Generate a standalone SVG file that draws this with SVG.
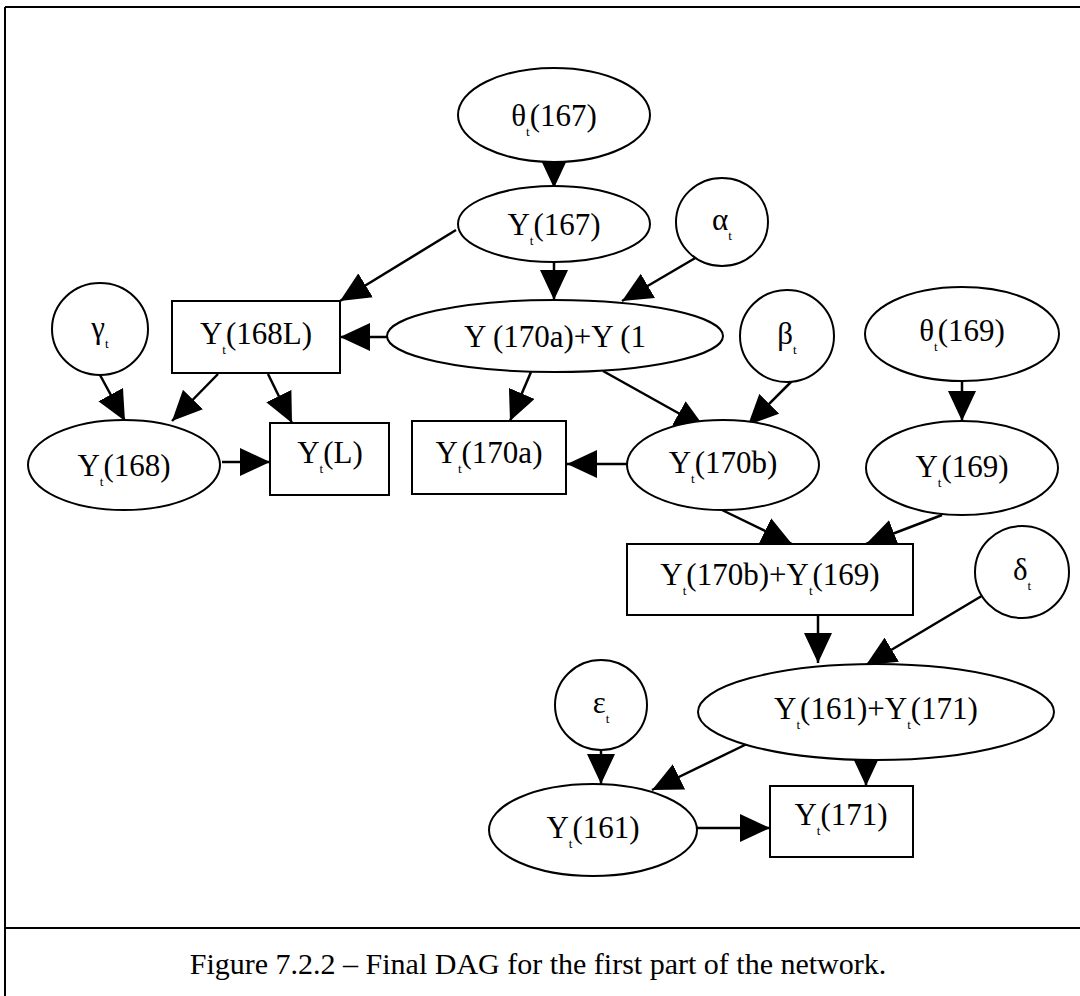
<svg xmlns="http://www.w3.org/2000/svg" width="1080" height="996" viewBox="0 0 1080 996">
<style>
.n{fill:#fff;stroke:#000;stroke-width:2}
.l{font-family:"Liberation Serif","Times New Roman",serif;font-size:31px;fill:#000;text-anchor:middle}
.s{font-size:13px}
.e{stroke:#000;stroke-width:2.5;fill:none;marker-end:url(#ah)}
.b{stroke:#000;stroke-width:2;fill:none}
</style>
<defs>
<marker id="ah" viewBox="0 0 30 28" refX="30" refY="14" markerWidth="30" markerHeight="28" markerUnits="userSpaceOnUse" orient="auto">
<path d="M0,0 L30,14 L0,28 z" fill="#000"/>
</marker>
</defs>
<rect x="0" y="0" width="1080" height="996" fill="#fff"/>
<g id="frame">
<path class="b" d="M5,7 H1080 M5,7 V996 M5,928 H1080"/>
</g>
<g id="edges">
<line class="e" x1="554" y1="162" x2="554" y2="188"/>
<line class="e" x1="456" y1="230" x2="340" y2="301"/>
<line class="e" x1="554" y1="261" x2="554" y2="300"/>
<line class="e" x1="697" y1="257" x2="622" y2="301"/>
<line class="e" x1="387" y1="337" x2="340" y2="337"/>
<line class="e" x1="100" y1="375" x2="125" y2="421"/>
<line class="e" x1="218" y1="374" x2="172" y2="421"/>
<line class="e" x1="268" y1="374" x2="292" y2="423"/>
<line class="e" x1="222" y1="462" x2="270" y2="462"/>
<line class="e" x1="531" y1="372" x2="510" y2="421"/>
<line class="e" x1="603" y1="371" x2="705" y2="428"/>
<line class="e" x1="792" y1="381" x2="748" y2="425"/>
<line class="e" x1="627" y1="464" x2="567" y2="464"/>
<line class="e" x1="962" y1="382" x2="962" y2="421"/>
<line class="e" x1="722" y1="510" x2="792" y2="544"/>
<line class="e" x1="942" y1="515" x2="866" y2="544"/>
<line class="e" x1="818" y1="615" x2="818" y2="663"/>
<line class="e" x1="985" y1="594" x2="866" y2="665"/>
<line class="e" x1="601" y1="750" x2="601" y2="784"/>
<line class="e" x1="753" y1="741" x2="652" y2="790"/>
<line class="e" x1="866" y1="760" x2="866" y2="786"/>
<line class="e" x1="697" y1="828" x2="770" y2="828"/>
</g>
<g id="theta167">
<ellipse class="n" cx="554" cy="115" rx="96" ry="47"/>
<text class="l" x="554" y="126">θ<tspan class="s" dy="10">t</tspan><tspan dy="-10">(167)</tspan></text>
</g>
<g id="Y167">
<ellipse class="n" cx="554" cy="224" rx="96" ry="38"/>
<text class="l" x="554" y="235">Y<tspan class="s" dy="10">t</tspan><tspan dy="-10">(167)</tspan></text>
</g>
<g id="alpha">
<ellipse class="n" cx="722" cy="222" rx="46" ry="44"/>
<text class="l" x="722" y="230">α<tspan class="s" dy="10">t</tspan></text>
</g>
<g id="Ysum170">
<ellipse class="n" cx="555" cy="336" rx="168" ry="36"/>
<text class="l" x="555" y="347">Y (170a)+Y (1</text>
</g>
<g id="Y168L">
<rect class="n" x="172" y="301" width="168" height="72"/>
<text class="l" x="256" y="344">Y<tspan class="s" dy="10">t</tspan><tspan dy="-10">(168L)</tspan></text>
</g>
<g id="gamma">
<ellipse class="n" cx="100" cy="329" rx="48" ry="46"/>
<text class="l" x="100" y="338">γ<tspan class="s" dy="10">t</tspan></text>
</g>
<g id="beta">
<ellipse class="n" cx="787" cy="336" rx="47" ry="46"/>
<text class="l" x="787" y="344">β<tspan class="s" dy="10">t</tspan></text>
</g>
<g id="theta169">
<ellipse class="n" cx="962" cy="334" rx="97" ry="47"/>
<text class="l" x="962" y="341">θ<tspan class="s" dy="10">t</tspan><tspan dy="-10">(169)</tspan></text>
</g>
<g id="Y168">
<ellipse class="n" cx="124" cy="465" rx="96" ry="45"/>
<text class="l" x="124" y="476">Y<tspan class="s" dy="10">t</tspan><tspan dy="-10">(168)</tspan></text>
</g>
<g id="YL">
<rect class="n" x="270" y="423" width="119" height="72"/>
<text class="l" x="330" y="463">Y<tspan class="s" dy="10">t</tspan><tspan dy="-10">(L)</tspan></text>
</g>
<g id="Y170a">
<rect class="n" x="412" y="421" width="154" height="73"/>
<text class="l" x="489" y="463">Y<tspan class="s" dy="10">t</tspan><tspan dy="-10">(170a)</tspan></text>
</g>
<g id="Y170b">
<ellipse class="n" cx="723" cy="465" rx="96" ry="45"/>
<text class="l" x="723" y="473">Y<tspan class="s" dy="10">t</tspan><tspan dy="-10">(170b)</tspan></text>
</g>
<g id="Y169">
<ellipse class="n" cx="962" cy="468" rx="96" ry="47"/>
<text class="l" x="962" y="477">Y<tspan class="s" dy="10">t</tspan><tspan dy="-10">(169)</tspan></text>
</g>
<g id="Ysum169">
<rect class="n" x="627" y="544" width="286" height="71"/>
<text class="l" x="770" y="585">Y<tspan class="s" dy="10">t</tspan><tspan dy="-10">(170b)+Y</tspan><tspan class="s" dy="10">t</tspan><tspan dy="-10">(169)</tspan></text>
</g>
<g id="delta">
<ellipse class="n" cx="1022" cy="572" rx="47" ry="46"/>
<text class="l" x="1022" y="580">δ<tspan class="s" dy="10">t</tspan></text>
</g>
<g id="epsilon">
<ellipse class="n" cx="601" cy="705" rx="46" ry="45"/>
<text class="l" x="601" y="713">ε<tspan class="s" dy="10">t</tspan></text>
</g>
<g id="Ysum171">
<ellipse class="n" cx="876" cy="712" rx="178" ry="48"/>
<text class="l" x="876" y="719">Y<tspan class="s" dy="10">t</tspan><tspan dy="-10">(161)+Y</tspan><tspan class="s" dy="10">t</tspan><tspan dy="-10">(171)</tspan></text>
</g>
<g id="Y161">
<ellipse class="n" cx="593" cy="830" rx="104" ry="46"/>
<text class="l" x="593" y="838">Y<tspan class="s" dy="10">t</tspan><tspan dy="-10">(161)</tspan></text>
</g>
<g id="Y171">
<rect class="n" x="770" y="786" width="143" height="71"/>
<text class="l" x="841" y="825">Y<tspan class="s" dy="10">t</tspan><tspan dy="-10">(171)</tspan></text>
</g>
<g id="caption">
<text class="l" x="538" y="974" style="font-size:30px">Figure 7.2.2 – Final DAG for the first part of the network.</text>
</g>
</svg>
